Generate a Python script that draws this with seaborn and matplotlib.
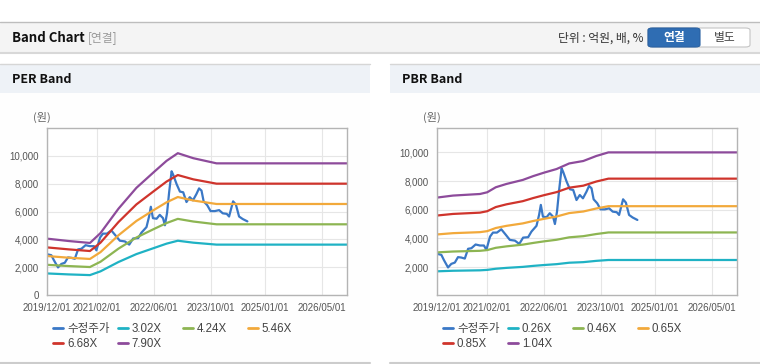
import pandas as pd
import seaborn as sns
import matplotlib.pyplot as plt
import matplotlib.dates as mdates
from matplotlib.patches import Rectangle, FancyBboxPatch

# ---- data ----
price_dates = ["2019-12-01", "2020-01-07", "2020-01-28", "2020-03-04", "2020-04-01", "2020-05-01",
               "2020-05-28", "2020-06-25", "2020-07-25", "2020-08-22", "2020-09-19", "2020-10-25",
               "2020-12-01", "2021-01-04", "2021-01-25", "2021-02-25", "2021-03-22", "2021-04-25",
               "2021-06-01", "2021-07-10", "2021-08-13", "2021-09-25", "2021-11-01", "2021-12-04",
               "2022-01-16", "2022-02-13", "2022-03-28", "2022-04-19", "2022-05-04", "2022-05-22",
               "2022-06-22", "2022-07-19", "2022-08-16", "2022-09-01", "2022-09-19", "2022-10-07",
               "2022-10-28", "2022-11-10", "2022-12-10", "2023-01-07", "2023-02-04", "2023-03-04",
               "2023-04-01", "2023-04-28", "2023-05-28", "2023-06-19", "2023-07-10", "2023-07-28",
               "2023-08-28", "2023-09-25", "2023-11-01", "2023-12-07", "2024-01-07", "2024-02-10",
               "2024-03-01", "2024-04-04", "2024-04-28", "2024-05-25", "2024-06-25", "2024-08-04"]
price_values = [2930, 2860, 2510, 1980, 2230, 2320, 2700, 2670, 2600, 3280, 3320, 3580,
                3510, 3510, 3210, 4130, 4410, 4410, 4640, 4250, 3900, 3850, 3620, 4060,
                4090, 4480, 4880, 5640, 6340, 5520, 5480, 5760, 5520, 5010, 5880, 7380,
                8890, 8650, 7960, 7430, 7380, 6680, 7030, 6800, 7260, 7660, 7500, 6730,
                6450, 6030, 6030, 6100, 5870, 5830, 5640, 6730, 6500, 5640, 5460, 5290]

per_dates = ["2019-12-01", "2020-06-01", "2020-12-01", "2021-03-01", "2021-08-01", "2022-01-01",
             "2022-06-01", "2022-09-15", "2022-12-20", "2023-05-01", "2023-11-15", "2026-12-01"]
per_302 = [1550, 1480, 1430, 1700, 2370, 2940, 3380, 3690, 3900, 3760, 3620, 3620]
per_424 = [2170, 2080, 2010, 2390, 3330, 4130, 4750, 5170, 5470, 5280, 5080, 5080]
per_546 = [2800, 2680, 2590, 3080, 4290, 5320, 6120, 6660, 7040, 6790, 6540, 6540]
per_668 = [3420, 3280, 3160, 3760, 5240, 6510, 7480, 8150, 8620, 8310, 8000, 8000]
per_790 = [4050, 3880, 3740, 4450, 6200, 7700, 8850, 9640, 10190, 9830, 9460, 9460]
per_labels = ["3.02X", "4.24X", "5.46X", "6.68X", "7.90X"]

pbr_dates = ["2019-12-01", "2020-04-15", "2020-12-01", "2021-02-01", "2021-04-15", "2021-07-15",
             "2021-12-01", "2022-03-01", "2022-06-01", "2022-09-15", "2023-01-01", "2023-05-01",
             "2023-08-20", "2023-12-01", "2026-12-01"]
pbr_026 = [1710, 1750, 1780, 1810, 1890, 1950, 2020, 2090, 2150, 2210, 2310, 2350, 2440, 2500, 2500]
pbr_046 = [3030, 3090, 3140, 3190, 3350, 3450, 3570, 3690, 3800, 3910, 4080, 4160, 4310, 4420, 4420]
pbr_065 = [4280, 4370, 4440, 4510, 4730, 4880, 5050, 5220, 5370, 5530, 5770, 5880, 6090, 6250, 6250]
pbr_085 = [5600, 5710, 5800, 5900, 6190, 6380, 6600, 6820, 7020, 7230, 7540, 7680, 7970, 8170, 8170]
pbr_104 = [6850, 6990, 7100, 7220, 7570, 7800, 8080, 8350, 8590, 8840, 9230, 9400, 9750, 10000, 10000]
pbr_labels = ["0.26X", "0.46X", "0.65X", "0.85X", "1.04X"]

price_label = "수정주가"
x_ticks = ["2019-12-01", "2021-02-01", "2022-06-01", "2023-10-01", "2025-01-01", "2026-05-01"]
colors = ["#3a78c6", "#1fb2c4", "#8db552", "#f2a93b", "#cf342c", "#8d4b9b"]

sns.set_style("white")
plt.rcParams["font.family"] = ["Liberation Sans", "Noto Sans CJK KR"]

W, H = 760, 364
fig = plt.figure(figsize=(W / 100, H / 100), dpi=100)


def fx(x):
    return x / W


def fy(y):
    return 1 - y / H


def rect(x0, y0, x1, y1, **kw):
    fig.patches.append(Rectangle((fx(x0), fy(y1)), fx(x1 - x0), (y1 - y0) / H,
                                 transform=fig.transFigure, zorder=-10, **kw))


def hline(x0, x1, y, color, lw=1):
    fig.add_artist(plt.Line2D([fx(x0), fx(x1)], [fy(y), fy(y)], color=color, lw=lw,
                              transform=fig.transFigure, zorder=-5))


# top header bar
rect(0, 22, 760, 52, facecolor="#f4f4f4", edgecolor="none")
hline(0, 760, 22, "#bdbdbd")
hline(0, 760, 52.5, "#d8d8d8", lw=1.5)
fig.text(fx(12), fy(38), "Band Chart", fontsize=9.5, fontweight="bold", va="center",
         family=["Noto Sans CJK KR"], color="#111")
fig.text(fx(88), fy(38), "[연결]", fontsize=8.5, va="center", color="#999",
         family=["Noto Sans CJK KR"])
fig.text(fx(643), fy(38.5), "단위 : 억원, 배, %", fontsize=8.5, va="center", ha="right",
         color="#333", family=["Noto Sans CJK KR"])
fig.patches.append(FancyBboxPatch((fx(648), fy(47)), fx(102), 19 / H,
                                  boxstyle="round,pad=0,rounding_size=0.006",
                                  facecolor="white", edgecolor="#c4c4c4", lw=0.8,
                                  transform=fig.transFigure))
fig.patches.append(FancyBboxPatch((fx(648), fy(47)), fx(52), 19 / H,
                                  boxstyle="round,pad=0,rounding_size=0.006",
                                  facecolor="#2f6db3", edgecolor="#2a62a3", lw=0.8,
                                  transform=fig.transFigure))
fig.text(fx(674), fy(38), "연결", fontsize=8.5, fontweight="bold", ha="center", va="center",
         color="white", family=["Noto Sans CJK KR"])
fig.text(fx(725), fy(38), "별도", fontsize=8.5, ha="center", va="center",
         color="#444", family=["Noto Sans CJK KR"])


def draw_panel(x0, x1, title, band_dates, bands, labels, ylim, yticks):
    # panel frame and title strip
    rect(x0, 64, x1, 92.5, facecolor="#eef2f7", edgecolor="none")
    rect(x0, 92.5, x1, 362, facecolor="#fefefe", edgecolor="none")
    hline(x0, x1, 64, "#d6d6d6")
    hline(x0, x1, 363, "#cccccc", lw=1.5)
    fig.text(fx(x0 + 12), fy(79.5), title, fontsize=9, fontweight="bold", va="center",
             family=["Noto Sans CJK KR"], color="#111")
    fig.text(fx(x0 + 42), fy(117.5), "(원)", fontsize=8, ha="center", va="center",
             color="#666", family=["Noto Sans CJK KR"])

    ax = fig.add_axes([fx(x0 + 47), fy(295), 300 / W, 167 / H])
    ax.set_facecolor("white")

    frames = [pd.DataFrame({"date": pd.to_datetime(price_dates), "value": price_values,
                            "series": price_label})]
    for lab, vals in zip(labels, bands):
        frames.append(pd.DataFrame({"date": pd.to_datetime(band_dates), "value": vals,
                                    "series": lab}))
    df = pd.concat(frames, ignore_index=True)
    order = [price_label] + labels
    sns.lineplot(data=df, x="date", y="value", hue="series", hue_order=order,
                 palette=colors, estimator=None, linewidth=1.6, legend=False, ax=ax)

    ax.set_xlim(pd.Timestamp("2019-12-01"), pd.Timestamp("2026-12-01"))
    ax.set_ylim(*ylim)
    ax.set_xticks(pd.to_datetime(x_ticks))
    ax.xaxis.set_major_formatter(mdates.DateFormatter("%Y/%m/%d"))
    ax.set_yticks(yticks)
    ax.set_yticklabels([f"{v:,}" for v in yticks])
    ax.set_xlabel("")
    ax.set_ylabel("")
    ax.grid(True, color="#e6e6e6", lw=0.8)
    for s in ax.spines.values():
        s.set_color("#b4b4b4")
        s.set_linewidth(1)
    ax.tick_params(axis="both", labelsize=7, colors="#b4b4b4", labelcolor="#555",
                   length=3, width=0.8, direction="out")
    ax.tick_params(axis="x", pad=2.5)
    ax.tick_params(axis="y", pad=3)

    # legend: row-wise, four fixed columns
    lines = ax.get_lines()[:6]
    names = order
    cols_x = [52.5, 117.5, 182.5, 247.5]
    for c, cx in enumerate(cols_x):
        idx = [i for i in (c, c + 4) if i < len(names)]
        leg = ax.legend([lines[i] for i in idx], [names[i] for i in idx],
                        loc="upper left", bbox_to_anchor=(fx(x0 + cx), fy(323)),
                        bbox_transform=fig.transFigure, frameon=False, fontsize=8.3,
                        handlelength=0.95, handletextpad=0.3, borderpad=0,
                        borderaxespad=0, labelspacing=0.25)
        for t in leg.get_texts():
            t.set_color("#444")
        for h in leg.legend_handles:
            h.set_linewidth(2)
        ax.add_artist(leg)
    ax.legend_ = None
    return ax


draw_panel(0, 370, "PER Band", per_dates, [per_302, per_424, per_546, per_668, per_790],
           per_labels, (0, 12000), [0, 2000, 4000, 6000, 8000, 10000])
draw_panel(390, 760, "PBR Band", pbr_dates, [pbr_026, pbr_046, pbr_065, pbr_085, pbr_104],
           pbr_labels, (60, 11700), [2000, 4000, 6000, 8000, 10000])

fig.savefig("out.png", dpi=100, facecolor="white")
